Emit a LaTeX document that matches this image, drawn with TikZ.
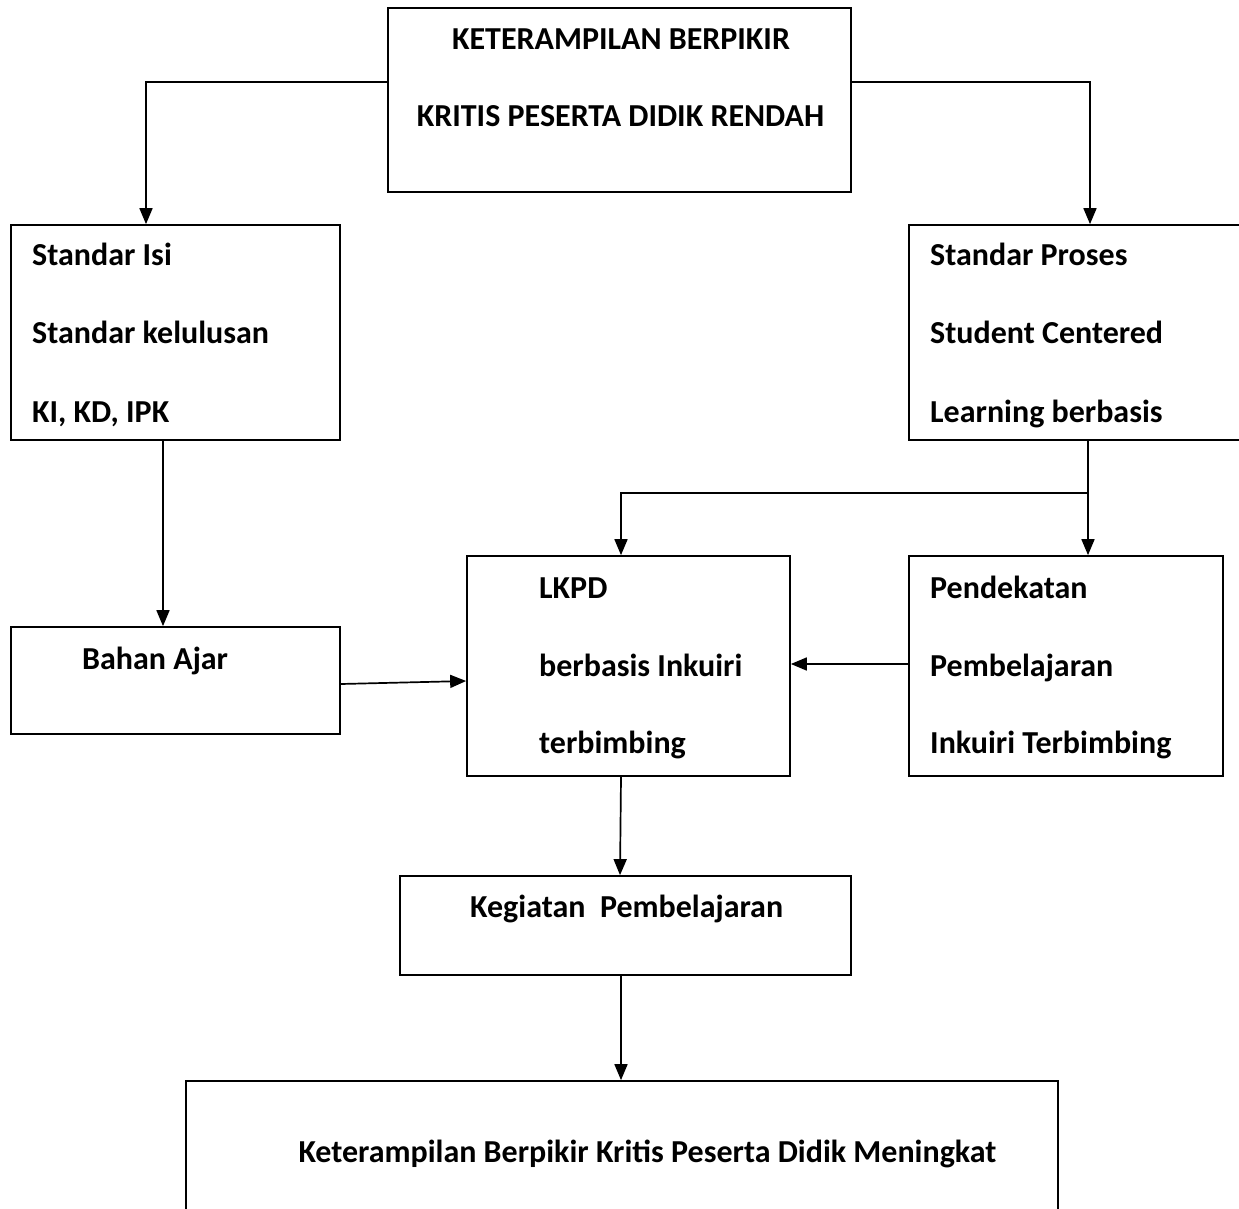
\documentclass[tikz,border=0pt]{standalone}
\usepackage{fontspec}
\setmainfont{Carlito}
\usepackage{tikz}
\usetikzlibrary{arrows.meta}

\tikzset{
  box/.style={draw, line width=1.7pt, rectangle, inner sep=0pt},
  txt/.style={anchor=base west, inner sep=0pt, font=\fontsize{32}{32}\selectfont\bfseries},
  ctxt/.style={anchor=base, inner sep=0pt, font=\fontsize{32}{32}\selectfont\bfseries},
  arr/.style={line width=1.7pt, -{Triangle[length=16pt,width=13pt]}}
}

\begin{document}
\begin{tikzpicture}[x=1pt, y=-1pt]
            \useasboundingbox (0,0) rectangle (1239,1209);
            % boxes
            \node[box, minimum width=463pt, minimum height=184pt] (masalah) at (619.5,100) {};
            \node[box, minimum width=329pt, minimum height=215pt] (isi) at (175.5,332.5) {};
            \node[box, minimum width=339pt, minimum height=215pt] (proses) at (1078.5,332.5) {};
            \node[box, minimum width=329pt, minimum height=107pt] (bahan) at (175.5,680.5) {};
            \node[box, minimum width=323pt, minimum height=220pt] (lkpd) at (628.5,666) {};
            \node[box, minimum width=314pt, minimum height=220pt] (pend) at (1066,666) {};
            \node[box, minimum width=451pt, minimum height=99pt] (kegiatan) at (625.5,925.5) {};
            \node[box, minimum width=872pt, minimum height=149pt] (hasil) at (622,1155.5) {};
            % texts
            \node[ctxt] (masalahA) at (621,50) {KETERAMPILAN BERPIKIR};
            \node[ctxt] (masalahB) at (620.5,127) {KRITIS PESERTA DIDIK RENDAH};
            \node[txt] (isiA) at (32,265) {Standar Isi};
            \node[txt] (isiB) at (32,343) {Standar kelulusan};
            \node[txt] (isiC) at (32,422) {KI, KD, IPK};
            \node[txt] (prosesA) at (930,265) {Standar Proses};
            \node[txt] (prosesB) at (930,343) {Student Centered};
            \node[txt] (prosesC) at (930,422) {Learning berbasis};
            \node[txt] (bahanA) at (82,669) {Bahan Ajar};
            \node[txt] (lkpdA) at (539,598) {LKPD};
            \node[txt] (lkpdB) at (539,676) {berbasis Inkuiri};
            \node[txt] (lkpdC) at (539,753) {terbimbing};
            \node[txt] (pendA) at (930,598) {Pendekatan};
            \node[txt] (pendB) at (930,676) {Pembelajaran};
            \node[txt] (pendC) at (930,753) {Inkuiri Terbimbing};
            \node[txt] (kegiatanA) at (470,917) {Kegiatan\ \ Pembelajaran};
            \node[ctxt] (hasilA) at (647.5,1162) {Keterampilan Berpikir Kritis Peserta Didik Meningkat};
            % connectors
            \coordinate (cabang) at (1088,493);
            \draw[arr] ([yshift=18pt]masalah.west) -| ([xshift=-29.5pt]isi.north);
            \draw[arr] ([yshift=18pt]masalah.east) -| ([xshift=11.5pt]proses.north);
            \draw[arr] ([xshift=-12.5pt]isi.south) -- ([xshift=-12.5pt]bahan.north);
            \draw[line width=1.7pt] ([xshift=9.5pt]proses.south) -- (cabang);
            \draw[arr] (cabang) -| ([xshift=-7.5pt]lkpd.north);
            \draw[arr] (cabang) -- ([xshift=22pt]pend.north);
            \draw[arr] ([yshift=-3.5pt]bahan.east) -- ([yshift=-15pt]lkpd.west);
            \draw[arr] ([yshift=2pt]pend.west) -- ([yshift=2pt]lkpd.east);
            \draw[arr] ([xshift=-7.5pt]lkpd.south) -- ([xshift=-5.5pt]kegiatan.north);
            \draw[arr] ([xshift=-4.5pt]kegiatan.south) -- ([xshift=-1pt]hasil.north);
        \end{tikzpicture}
\end{document}
